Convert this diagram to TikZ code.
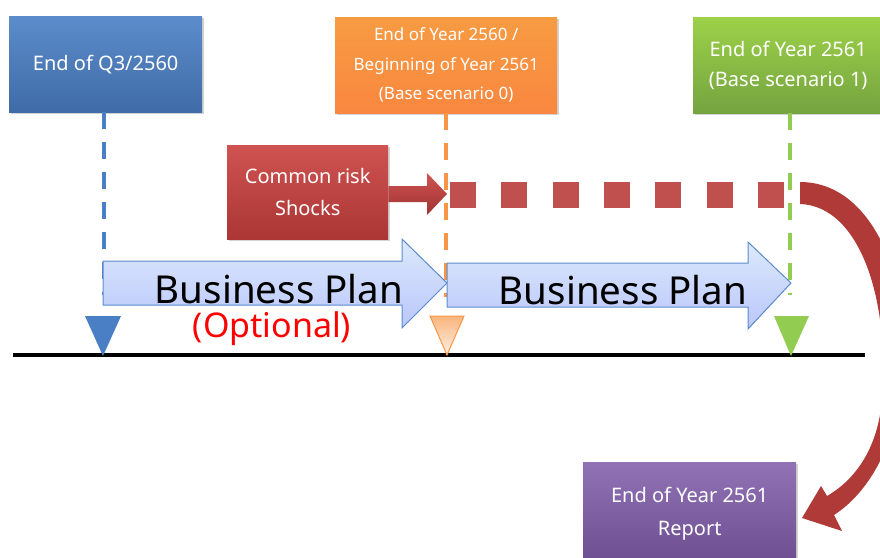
\documentclass[tikz,border=0pt]{standalone}
\usepackage{fontspec}
\setmainfont{Noto Sans}
\usetikzlibrary{shadows}
\definecolor{qblue}{HTML}{4A7FC5}
\definecolor{qorange}{HTML}{F79646}
\definecolor{qgreen}{HTML}{92CC50}
\definecolor{qred}{HTML}{C9403E}
\definecolor{qpurple}{HTML}{7E5AA8}
\definecolor{sqred}{HTML}{C0504D}
\definecolor{curvred}{HTML}{B03A38}
\definecolor{planfill}{HTML}{C4DAF8}
\definecolor{planline}{HTML}{5B8BCD}
\tikzset{
  box/.style={anchor=north west, inner sep=0pt, text=white, align=center,
    font=\fontsize{20}{30}\selectfont,
    drop shadow={opacity=0.35, shadow xshift=2pt, shadow yshift=-2pt}},
  tdash/.style={line width=4pt, dash pattern=on 17pt off 13pt},
  plan/.style={draw=planline, line width=1pt, top color=planfill!60!white, bottom color=planfill!80!blue!70!white},
  plantext/.style={font=\fontsize{38.5}{40}\selectfont},
}
\begin{document}
\begin{tikzpicture}[x=1pt,y=-1pt]
\useasboundingbox (0,0) rectangle (880,557);
% boxes
\node[box, minimum width=193pt, minimum height=96pt, top color=qblue!90!white, bottom color=qblue!85!black] (q3) at (9,16) {End of Q3/2560};
\node[box, minimum width=222pt, minimum height=96pt, font=\fontsize{17}{29.5}\selectfont, top color=qorange!95!yellow, bottom color=qorange!90!red] (y2560) at (335,17) {End of Year 2560 /\\Beginning of Year 2561\\(Base scenario 0)};
\node[box, minimum width=190pt, minimum height=96pt, top color=qgreen!90!yellow, bottom color=qgreen!80!black] (y2561) at (693,17) {End of Year 2561\\(Base scenario 1)};
\node[box, minimum width=161pt, minimum height=94pt, font=\fontsize{20}{32}\selectfont, top color=qred!90!white, bottom color=qred!85!black] (shock) at (227,145) {Common risk\\Shocks};
\node[box, minimum width=213pt, minimum height=104pt, font=\fontsize{20}{33}\selectfont, top color=qpurple!85!white, bottom color=qpurple!85!black] (report) at (583,462) {End of Year 2561\\Report};
% dashed guide lines
\coordinate (q3end) at (104,295);
\coordinate (y2560end) at (446,297);
\coordinate (y2561end) at (790,295);
\draw[tdash, draw=qblue] (q3.south -| q3end) -- (q3end);
\draw[tdash, draw=qorange] (y2560.south -| y2560end) -- (y2560end);
\draw[tdash, draw=qgreen] (y2561.south -| y2561end) -- (y2561end);
% shocks
\shade[top color=qred!90!white, bottom color=qred!80!black] (shock.east |- 0,186) -- (427,186) -- (427,173) -- (447,194) -- (427,215) -- (427,202) -- (shock.east |- 0,202) -- cycle;
\coordinate (sq0) at (450,195);
\coordinate (sq1) at (784,195);
\draw[sqred, line width=26pt, dash pattern=on 26pt off 25.3pt] (sq0) -- (sq1);
\fill[curvred] (800,182) .. controls (880,182) and (918,300) .. (900,400) .. controls (890,455) and (865,495) .. (834,515) -- (842,531) -- (802,518) -- (821,486) -- (827,496) .. controls (858,478) and (878,445) .. (882,400) .. controls (890,300) and (860,206) .. (800,204) -- cycle;
% business plan arrows
\draw[plan] (103,261) -- (402,261) -- (402,239) -- (447,283) -- (402,328) -- (402,305) -- (103,305) -- cycle;
\draw[plan] (447,263) -- (748,263) -- (748,242) -- (791,283) -- (748,329) -- (748,307) -- (447,307) -- cycle;
\node[plantext] (plan1) at (279,289) {Business Plan};
\node[plantext] (plan2) at (623,290) {Business Plan};
\node[font=\fontsize{34}{36}\selectfont, text=red] (optional) at (272,329) {(Optional)};
% timeline
\draw[line width=4pt] (13,355) -- (865,355);
\fill[qblue] (85,316) -- (121,316) -- (103,356) -- cycle;
\draw[qorange, line width=1pt, top color=qorange!70!white, bottom color=qorange!15!white] (430,316) -- (464,316) -- (447,355) -- cycle;
\fill[qgreen] (774,316) -- (809,316) -- (791,356) -- cycle;
\end{tikzpicture}
\end{document}
